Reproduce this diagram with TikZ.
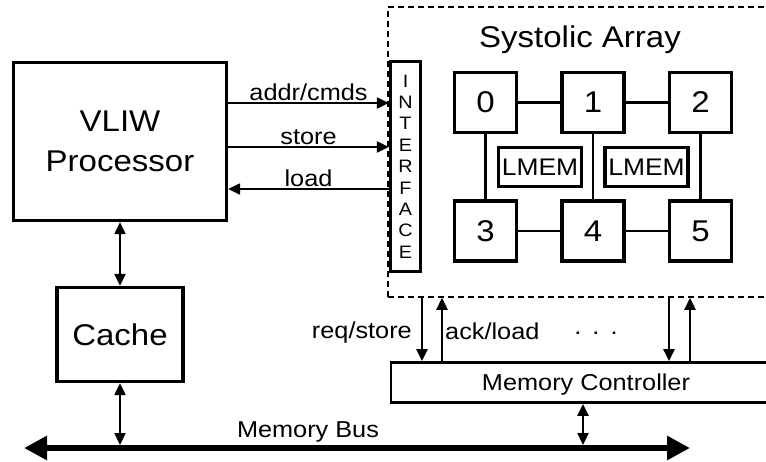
\documentclass[tikz,border=0pt]{standalone}
\usepackage{fontspec}
\setmainfont[FakeStretch=1.1]{Liberation Sans}
\usetikzlibrary{arrows.meta, positioning, calc}

\begin{document}
\begin{tikzpicture}[x=1pt, y=-1pt,
  box/.style={draw, rectangle, line width=3.4pt, inner sep=0pt, align=center},
  pe/.style={box, minimum width=62pt, minimum height=60pt, font=\fontsize{30}{34}\selectfont},
  mem/.style={box, minimum width=83pt, minimum height=39pt, font=\fontsize{24}{28}\selectfont},
  lbl/.style={inner sep=0pt, font=\fontsize{23}{27}\selectfont},
  link/.style={line width=2.6pt},
  sig/.style={line width=2.3pt, -{Triangle[length=12pt, width=11pt]}},
  dsig/.style={line width=2.3pt, {Triangle[length=12pt, width=11pt]}-{Triangle[length=12pt, width=11pt]}}]
\useasboundingbox (0,0) rectangle (766,461);

% Processor side
\node[box, minimum width=213pt, minimum height=158pt, font=\fontsize{30}{40}\selectfont] (vliw) at (120,141.5) {VLIW\\Processor};
\node[box, minimum width=126pt, minimum height=94pt, font=\fontsize{30}{34}\selectfont] (cache) at (120,334.5) {Cache};
\draw[dsig] (vliw) -- (cache);

% Systolic array
\node[draw, dashed, dash pattern=on 6pt off 4pt, line width=1.5pt, minimum width=388pt, minimum height=290pt] (sa) at (582,152) {};
\node[font=\fontsize{30}{34}\selectfont, anchor=base] (satitle) at (580,47) {Systolic Array};
\node[box, minimum width=30pt, minimum height=210pt, font=\fontsize{18}{21.4}\selectfont] (iface) at (405.5,166.5) {I\\N\\T\\E\\R\\F\\A\\C\\E};

\node[pe] (pe0) at (485.5,102.5) {0};
\node[pe] (pe1) at (593,102.5) {1};
\node[pe] (pe2) at (700.5,102.5) {2};
\node[pe] (pe3) at (485.5,231) {3};
\node[pe] (pe4) at (593,231) {4};
\node[pe] (pe5) at (700.5,231) {5};
\node[mem] (lmem0) at (540,167) {LMEM};
\node[mem] (lmem1) at (646.5,167) {LMEM};

\draw[link] (pe0) -- (pe1);
\draw[link] (pe1) -- (pe2);
\draw[link] (pe3) -- (pe4);
\draw[link] (pe4) -- (pe5);
\draw[link] (pe0) -- (pe3);
\draw[link] (pe1) -- (pe4);
\draw[link] (pe2) -- (pe5);

% Processor <-> interface
\draw[sig] (vliw.east |- 0,103) -- node[lbl, above=1.5pt] {addr/cmds} (iface.west |- 0,103);
\draw[sig] (vliw.east |- 0,147) -- node[lbl, above=1.5pt] {store} (iface.west |- 0,147);
\draw[sig] (iface.west |- 0,189) -- node[lbl, above=1.5pt] {load} (vliw.east |- 0,189);

% Memory side
\node[box, line width=2.8pt, minimum width=390pt, minimum height=40pt, font=\fontsize{23}{27}\selectfont, text depth=0pt] (mc) at (586,382.5) {Memory Controller};
\draw[sig] (sa.south -| 422,0) -- (mc.north -| 422,0);
\draw[sig] (mc.north -| 442,0) -- (sa.south -| 442,0);
\draw[sig] (sa.south -| 669,0) -- (mc.north -| 669,0);
\draw[sig] (mc.north -| 690,0) -- (sa.south -| 690,0);
\node[lbl, anchor=base east] (req) at (412,338) {req/store};
\node[lbl, anchor=base west] (ack) at (445,339) {ack/load};
\node[lbl, anchor=base] (dots) at (596,334) {.\hspace{11pt}.\hspace{11pt}.};

% Bus
\coordinate (busL) at (24,448);
\coordinate (busR) at (690,448);
\draw[line width=6pt, {Triangle[length=23pt, width=23pt]}-{Triangle[length=23pt, width=23pt]}] (busL) -- (busR);
\node[lbl, anchor=base] (busname) at (308,437) {Memory Bus};
\draw[dsig, shorten >=3pt] (cache.south) -- (cache.south |- busL);
\draw[dsig, shorten >=3pt] (mc.south -| 583,0) -- (busL -| 583,0);
\end{tikzpicture}
\end{document}
